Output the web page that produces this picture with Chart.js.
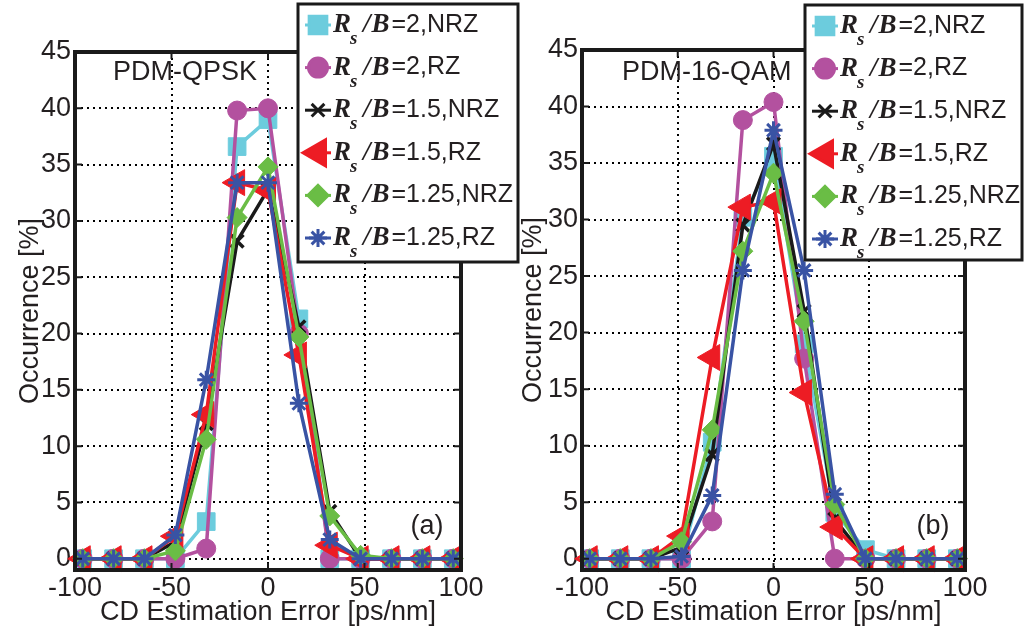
<!DOCTYPE html>
<html>
<head>
<meta charset="utf-8">
<script src="https://cdn.jsdelivr.net/npm/chart.js@4.4.0/dist/chart.umd.min.js"></script>
<style>
  body { margin: 0; background: #fff; }
  .panel { position: absolute; top: 0; }
</style>
</head>
<body>
<div class="panel" style="left:0"><canvas id="qpsk" width="530" height="633"></canvas></div>
<div class="panel" style="left:513px"><canvas id="qam" width="513" height="633"></canvas></div>
<script>
// CD estimation error [ps/nm]
const xValues = [-96, -80, -64, -48, -32, -16, 0, 16, 32, 48, 64, 80, 96];
const yTicks = [0, 5, 10, 15, 20, 25, 30, 35, 40, 45];
const legendLabels = ["2,NRZ", "2,RZ", "1.5,NRZ", "1.5,RZ", "1.25,NRZ", "1.25,RZ"];

// PDM-QPSK occurrence [%]
const qpskNrz2   = [0, 0, 0, 0,   3.3, 36.6, 39.0, 21.3, 0,   0,   0, 0, 0];
const qpskRz2    = [0, 0, 0, 0,   0.9, 39.8, 40.0, 20.0, 0,   0,   0, 0, 0];
const qpskNrz15  = [0, 0, 0, 1.5, 12.0, 28.2, 32.8, 20.6, 4.2, 0,   0, 0, 0];
const qpskRz15   = [0, 0, 0, 2.0, 12.8, 33.4, 32.7, 18.1, 1.2, 0,   0, 0, 0];
const qpskNrz125 = [0, 0, 0, 0.7, 10.6, 30.3, 34.8, 19.7, 3.8, 0.3, 0, 0, 0];
const qpskRz125  = [0, 0, 0, 2.1, 15.9, 33.4, 33.4, 13.8, 1.7, 0,   0, 0, 0];

// PDM-16-QAM occurrence [%]
const qamNrz2   = [0, 0, 0, 0,   10.3, 30.2, 35.6, 19.0, 4.1, 0.8, 0, 0, 0];
const qamRz2    = [0, 0, 0, 0,   3.3,  38.8, 40.4, 17.7, 0,   0,   0, 0, 0];
const qamNrz15  = [0, 0, 0, 1.0, 9.2,  29.5, 36.7, 21.9, 3.5, 0,   0, 0, 0];
const qamRz15   = [0, 0, 0, 2.0, 17.8, 31.1, 31.6, 14.7, 2.8, 0,   0, 0, 0];
const qamNrz125 = [0, 0, 0, 1.5, 11.4, 27.2, 34.1, 21.0, 4.8, 0,   0, 0, 0];
const qamRz125  = [0, 0, 0, 0.2, 5.6,  25.5, 37.9, 25.5, 5.7, 0,   0, 0, 0];

const styles = [
  { color: "#6cccdd", pointStyle: "rect",     radius: 12.5, rotation: 0,   bw: 1 },
  { color: "#b3519f", pointStyle: "circle",   radius: 9.5,  rotation: 0,   bw: 1 },
  { color: "#1a1a1a", pointStyle: "crossRot", radius: 9,    rotation: 0,   bw: 3.5 },
  { color: "#ed1c24", pointStyle: "triangle", radius: 15,   rotation: -90, bw: 1 },
  { color: "#6abd45", pointStyle: "rectRot",  radius: 10,   rotation: 0,   bw: 1 },
  { color: "#3953a4", pointStyle: "star",     radius: 9,    rotation: 0,   bw: 3 }
];

const textColor = "#231f20";
Chart.defaults.font.family = '"Liberation Sans", Arial, sans-serif';
Chart.defaults.font.size = 27;
Chart.defaults.color = textColor;

function makeDatasets(series) {
  return series.map(function(values, i) {
    const s = styles[i];
    return {
      label: "Rs/B=" + legendLabels[i],
      data: values,
      borderColor: s.color,
      backgroundColor: s.color,
      borderWidth: 3.5,
      pointStyle: s.pointStyle,
      pointRadius: s.radius,
      pointRotation: s.rotation,
      pointBorderWidth: s.bw,
      pointBackgroundColor: s.color,
      pointBorderColor: s.color,
      tension: 0,
      clip: false,
      order: series.length - i
    };
  });
}

// frame, inward ticks, legend box and labels
const decorPlugin = {
  id: "decor",
  afterDatasetsDraw(chart) {
    const ctx = chart.ctx;
    const a = chart.chartArea;
    const xs = chart.scales.x, ys = chart.scales.y;
    ctx.save();
    ctx.strokeStyle = "#1a1a1a";
    ctx.lineWidth = 2;
    xs.ticks.forEach(function(t) {
      const px = xs.getPixelForValue(t.value);
      ctx.beginPath();
      ctx.moveTo(px, a.bottom); ctx.lineTo(px, a.bottom - 7);
      ctx.moveTo(px, a.top); ctx.lineTo(px, a.top + 7);
      ctx.stroke();
    });
    ys.ticks.forEach(function(t) {
      const py = ys.getPixelForValue(t.value);
      ctx.beginPath();
      ctx.moveTo(a.left, py); ctx.lineTo(a.left + 7, py);
      ctx.moveTo(a.right, py); ctx.lineTo(a.right - 7, py);
      ctx.stroke();
    });
    ctx.lineWidth = 4;
    ctx.strokeRect(a.left, a.top, a.right - a.left, a.bottom - a.top);
    ctx.restore();
  },
  afterDraw(chart, args, opts) {
    const ctx = chart.ctx;
    ctx.save();
    ctx.fillStyle = textColor;
    ctx.font = '27px "Liberation Sans", Arial, sans-serif';
    ctx.textBaseline = "middle";
    ctx.textAlign = "left";
    ctx.fillText(opts.title, opts.titleX, 73);
    ctx.textAlign = "center";
    ctx.fillText(opts.tag, opts.tagX, 527);

    // legend
    const b = opts.box;
    ctx.fillStyle = "#fff";
    ctx.fillRect(b.x, b.y, b.w, b.h);
    ctx.strokeStyle = "#1a1a1a";
    ctx.lineWidth = 3;
    ctx.strokeRect(b.x, b.y, b.w, b.h);
    chart.data.datasets.forEach(function(ds, i) {
      const s = styles[i];
      const y = b.y + 21 + i * 42.6;
      ctx.strokeStyle = s.color;
      ctx.fillStyle = s.color;
      ctx.lineWidth = 3;
      ctx.beginPath();
      ctx.moveTo(b.x + 7, y); ctx.lineTo(b.x + 33, y);
      ctx.stroke();
      Chart.helpers.drawPoint(ctx, {
        pointStyle: s.pointStyle, rotation: s.rotation,
        radius: s.radius, borderWidth: s.bw
      }, b.x + 20, y);

      const x = b.x + 35;
      ctx.fillStyle = textColor;
      ctx.textAlign = "left";
      ctx.textBaseline = "middle";
      ctx.font = 'bold italic 27px "Liberation Serif", "Times New Roman", serif';
      ctx.fillText("R", x, y);
      const wR = ctx.measureText("R").width;
      ctx.font = 'bold italic 19px "Liberation Serif", "Times New Roman", serif';
      ctx.fillText("s", x + wR - 1, y + 14);
      ctx.font = 'bold italic 27px "Liberation Serif", "Times New Roman", serif';
      const slashX = x + wR + 12;
      ctx.fillText("/", slashX, y);
      const bX = slashX + ctx.measureText("/").width + 1;
      ctx.fillText("B", bX, y);
      const restX = bX + ctx.measureText("B").width + 2;
      ctx.font = '25px "Liberation Sans", Arial, sans-serif';
      ctx.fillText("=" + legendLabels[i], restX, y);
    });
    ctx.restore();
  }
};

function makeChart(id, series, cfg) {
  new Chart(document.getElementById(id).getContext("2d"), {
    type: "line",
    data: { labels: xValues, datasets: makeDatasets(series) },
    plugins: [decorPlugin],
    options: {
      responsive: false,
      animation: false,
      layout: { padding: { top: cfg.top, right: cfg.right, left: 0, bottom: 0 } },
      plugins: {
        legend: { display: false },
        tooltip: { enabled: false },
        decor: cfg.decor
      },
      scales: {
        x: {
          type: "linear",
          min: -100,
          max: 100,
          afterFit: function(s) { s.height = 63; },
          ticks: { stepSize: 50, padding: 2, maxRotation: 0 },
          grid: { color: "#000", lineWidth: 2, drawTicks: false, borderDash: [2, 4] },
          border: { display: false, dash: [2, 4] },
          title: { display: true, text: "CD Estimation Error [ps/nm]", padding: { top: 0, bottom: 4 } }
        },
        y: {
          min: -1,
          max: 45,
          afterFit: function(s) { s.width = cfg.yWidth; },
          afterBuildTicks: function(s) { s.ticks = yTicks.map(function(v) { return { value: v }; }); },
          ticks: { padding: 4 },
          grid: { color: "#000", lineWidth: 2, drawTicks: false, borderDash: [2, 4] },
          border: { display: false, dash: [2, 4] },
          title: { display: true, text: "Occurrence [%]", padding: { top: cfg.yTitlePad, bottom: 0 } }
        }
      }
    }
  });
}

makeChart("qpsk", [qpskNrz2, qpskRz2, qpskNrz15, qpskRz15, qpskNrz125, qpskRz125], {
  top: 52, right: 69, yWidth: 75, yTitlePad: 14,
  decor: { title: "PDM-QPSK", titleX: 113, tag: "(a)", tagX: 427, box: { x: 298, y: 4, w: 220, h: 258 } }
});

makeChart("qam", [qamNrz2, qamRz2, qamNrz15, qamRz15, qamNrz125, qamRz125], {
  top: 50, right: 61, yWidth: 69, yTitlePad: 4,
  decor: { title: "PDM-16-QAM", titleX: 109, tag: "(b)", tagX: 420, box: { x: 292, y: 5, w: 217, h: 255 } }
});
</script>
</body>
</html>
